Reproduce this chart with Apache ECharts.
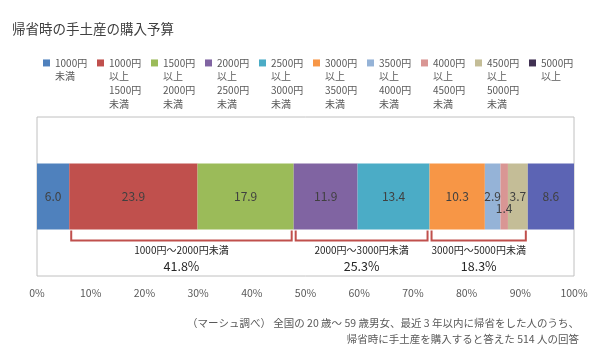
<!DOCTYPE html>
<html>
<head>
<meta charset="utf-8">
<script src="https://cdn.jsdelivr.net/npm/echarts@6/dist/echarts.min.js"></script>
<style>html,body{margin:0;padding:0;background:#fff}#main{width:600px;height:353px}</style>
</head>
<body>
<div id="main"></div>
<script>
// 予算区分（凡例の表示名）
var categories = ['1000円\n未満', '1000円\n以上\n1500円\n未満', '1500円\n以上\n2000円\n未満',
  '2000円\n以上\n2500円\n未満', '2500円\n以上\n3000円\n未満', '3000円\n以上\n3500円\n未満',
  '3500円\n以上\n4000円\n未満', '4000円\n以上\n4500円\n未満', '4500円\n以上\n5000円\n未満', '5000円\n以上'];
// 割合(%)
var values = [6.0, 23.9, 17.9, 11.9, 13.4, 10.3, 2.9, 1.4, 3.7, 8.6];
var colors = ['#4F81BD', '#C0504D', '#9BBB59', '#8064A2', '#4BACC6', '#F79646', '#95B3D7', '#D99694', '#C4BD97', '#5C64B4'];
// x軸の目盛
var tickValues = [0, 10, 20, 30, 40, 50, 60, 70, 80, 90, 100];
// 括弧でくくるグループ
var groupNames = ['1000円～2000円未満', '2000円～3000円未満', '3000円～5000円未満'];
var groupMembers = [[1, 2], [3, 4], [5, 6, 7, 8]];
var groupPercents = ['41.8%', '25.3%', '18.3%'];
// 注記
var noteLines = ['（マーシュ調べ） 全国の 20 歳～ 59 歳男女、最近 3 年以内に帰省をした人のうち、',
  '帰省時に手土産を購入すると答えた 514 人の回答'];

var font = "'Noto Sans CJK JP', sans-serif";
var barWidth = 66;
var lh = 13.7;

var myChart = echarts.init(document.getElementById('main'));

//グループの開始・終了位置を積み上げから計算
var bracketData = groupMembers.map(function (m) {
  var start = 0;
  for (var i = 0; i < m[0]; i++) start += values[i];
  var end = start;
  m.forEach(function (k) { end += values[k]; });
  return [start, end, 0];
});

var series = categories.map(function (name, i) {
  return {
    name: name,
    type: 'bar',
    stack: 'total',
    barWidth: barWidth,
    data: [values[i]],
    itemStyle: { color: colors[i] },
    label: {
      show: true,
      position: 'inside',
      offset: i === 7 ? [0, 12] : [0, 0],
      color: '#404040',
      fontSize: 12,
      fontFamily: font,
      formatter: function (p) { return p.value.toFixed(1); }
    }
  };
});

series.push({
  type: 'custom',
  silent: true,
  data: bracketData,
  encode: { x: [0, 1], y: 2 },
  z: 5,
  renderItem: function (params, api) {
    var p1 = api.coord([api.value(0), 0]);
    var p2 = api.coord([api.value(1), 0]);
    var x1 = p1[0] + 2, x2 = p2[0] - 2;
    var yb = p1[1] + barWidth / 2;
    var mid = (x1 + x2) / 2;
    return {
      type: 'group',
      children: [
        {
          type: 'polyline',
          shape: { points: [[x1, yb + 1], [x1, yb + 11], [x2, yb + 11], [x2, yb + 1]] },
          style: { stroke: '#C0504D', lineWidth: 2, fill: null }
        },
        {
          type: 'text',
          style: { text: groupNames[params.dataIndex], x: mid, y: yb + 21, align: 'center', verticalAlign: 'middle',
            fill: '#262626', fontSize: 10, fontFamily: font }
        },
        {
          type: 'text',
          style: { text: groupPercents[params.dataIndex], x: mid, y: yb + 37, align: 'center', verticalAlign: 'middle',
            fill: '#262626', fontSize: 12.5, fontFamily: font }
        }
      ]
    };
  }
});

var option = {
  animation: false,
  backgroundColor: '#fff',
  title: {
    text: '帰省時の手土産の購入予算',
    left: 12,
    top: 22,
    padding: 0,
    textStyle: { fontSize: 13.5, fontWeight: 'normal', color: '#404040', fontFamily: font }
  },
  legend: {
    left: 43,
    top: 15,
    padding: 0,
    itemGap: 0,
    itemWidth: 7,
    itemHeight: 7,
    icon: 'rect',
    selectedMode: false,
    data: categories.map(function (name, i) {
      return {
        name: name,
        itemStyle: i === 9 ? { color: '#403152' } : undefined
      };
    }),
    // 1行目をアイコンの高さにそろえるため、先頭に空行を足す
    formatter: function (name) {
      var n = name.split('\n').length;
      var pre = '';
      for (var i = 1; i < n; i++) pre += ' \n';
      return pre + name;
    },
    textStyle: { fontSize: 10, lineHeight: lh, color: '#595959', fontFamily: font, width: 42 }
  },
  grid: {
    left: 37,
    right: 26,
    top: 117,
    bottom: 77,
    show: true,
    borderColor: '#C0C0C0',
    borderWidth: 1
  },
  xAxis: {
    type: 'value',
    min: tickValues[0],
    max: tickValues[tickValues.length - 1],
    interval: tickValues[1] - tickValues[0],
    axisLine: { show: false },
    axisTick: { show: false },
    splitLine: { show: false },
    axisLabel: {
      margin: 12,
      color: '#595959',
      fontSize: 10.5,
      fontFamily: font,
      formatter: function (v) { return v + '%'; }
    }
  },
  yAxis: {
    type: 'category',
    data: ['予算'],
    show: false
  },
  graphic: noteLines.map(function (t, i) {
    return {
      type: 'text',
      right: 21,
      top: 318 + i * 16,
      style: { text: t, fill: '#595959', fontSize: 10.5, fontFamily: font }
    };
  }),
  series: series
};

myChart.setOption(option);
</script>
</body>
</html>
